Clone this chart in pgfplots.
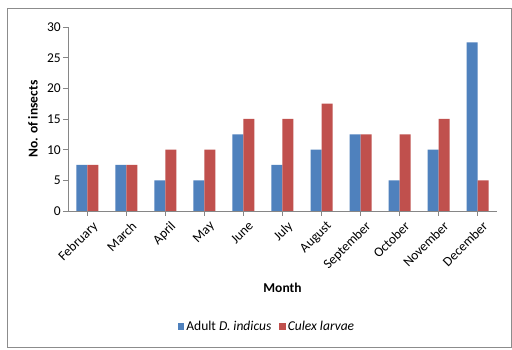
\documentclass[border=0pt]{standalone}
\usepackage{fontspec}
\setmainfont{Carlito}
\usepackage{pgfplots}
\pgfplotsset{compat=1.18}
\definecolor{adultblue}{HTML}{4F81BD}
\definecolor{larvared}{HTML}{C0504D}
\definecolor{axisgray}{HTML}{868686}
\definecolor{framegray}{HTML}{8C8C8C}

\begin{document}
\begin{tikzpicture}
\useasboundingbox (-68pt,-139pt) rectangle (444pt,211pt);
\fill[white] (-68pt,-139pt) rectangle (444pt,211pt);
\draw[framegray, line width=1pt] (-60pt,-137pt) rectangle (443pt,202pt);
\begin{axis}[
  scale only axis, width=429pt, height=184pt,
  ybar=0pt, bar width=11pt,
  xmin=-0.5, xmax=10.5, ymin=0, ymax=30,
  xtick={0,...,10},
  xticklabels={February,March,April,May,June,July,August,September,October,November,December},
  ytick={0,5,...,30},
  axis x line*=bottom, axis y line*=left,
  axis line style={axisgray, line width=0.8pt},
  tick style={axisgray, line width=0.6pt},
  tick align=outside, major tick length=5pt,
  /pgf/number format/assume math mode=true,
  ticklabel style={font=\fontsize{13.5}{15}\selectfont},
  yticklabel style={inner sep=2pt},
  xticklabel style={rotate=45, anchor=north east, inner sep=1pt, yshift=-5pt, xshift=1pt},
  xlabel={Month},
  ylabel={No. of insects},
  label style={font=\fontsize{13.5}{15}\selectfont\bfseries},
  xlabel style={at={(axis description cs:0.5,-0.418)}, anchor=center},
  ylabel style={at={(axis description cs:-0.0816,0.5)}, anchor=center},
  legend style={at={(axis description cs:0.464,-0.63)}, anchor=center,
    draw=none, fill=none, legend columns=2,
    font=\fontsize{13.5}{15}\selectfont,
    /tikz/every even column/.append style={column sep=6pt}},
]
\addplot[fill=adultblue, draw=none,
  legend image code/.code={\fill[adultblue] (0pt,-3pt) rectangle (6.5pt,3.5pt);}]
  coordinates {(0,7.5) (1,7.5) (2,5) (3,5) (4,12.5) (5,7.5) (6,10) (7,12.5) (8,5) (9,10) (10,27.5)};
\addplot[fill=larvared, draw=none,
  legend image code/.code={\fill[larvared] (0pt,-3pt) rectangle (6.5pt,3.5pt);}]
  coordinates {(0,7.5) (1,7.5) (2,10) (3,10) (4,15) (5,15) (6,17.5) (7,12.5) (8,12.5) (9,15) (10,5)};
\legend{Adult \textit{D. indicus}, \textit{Culex larvae}}
\end{axis}
\end{tikzpicture}
\end{document}
